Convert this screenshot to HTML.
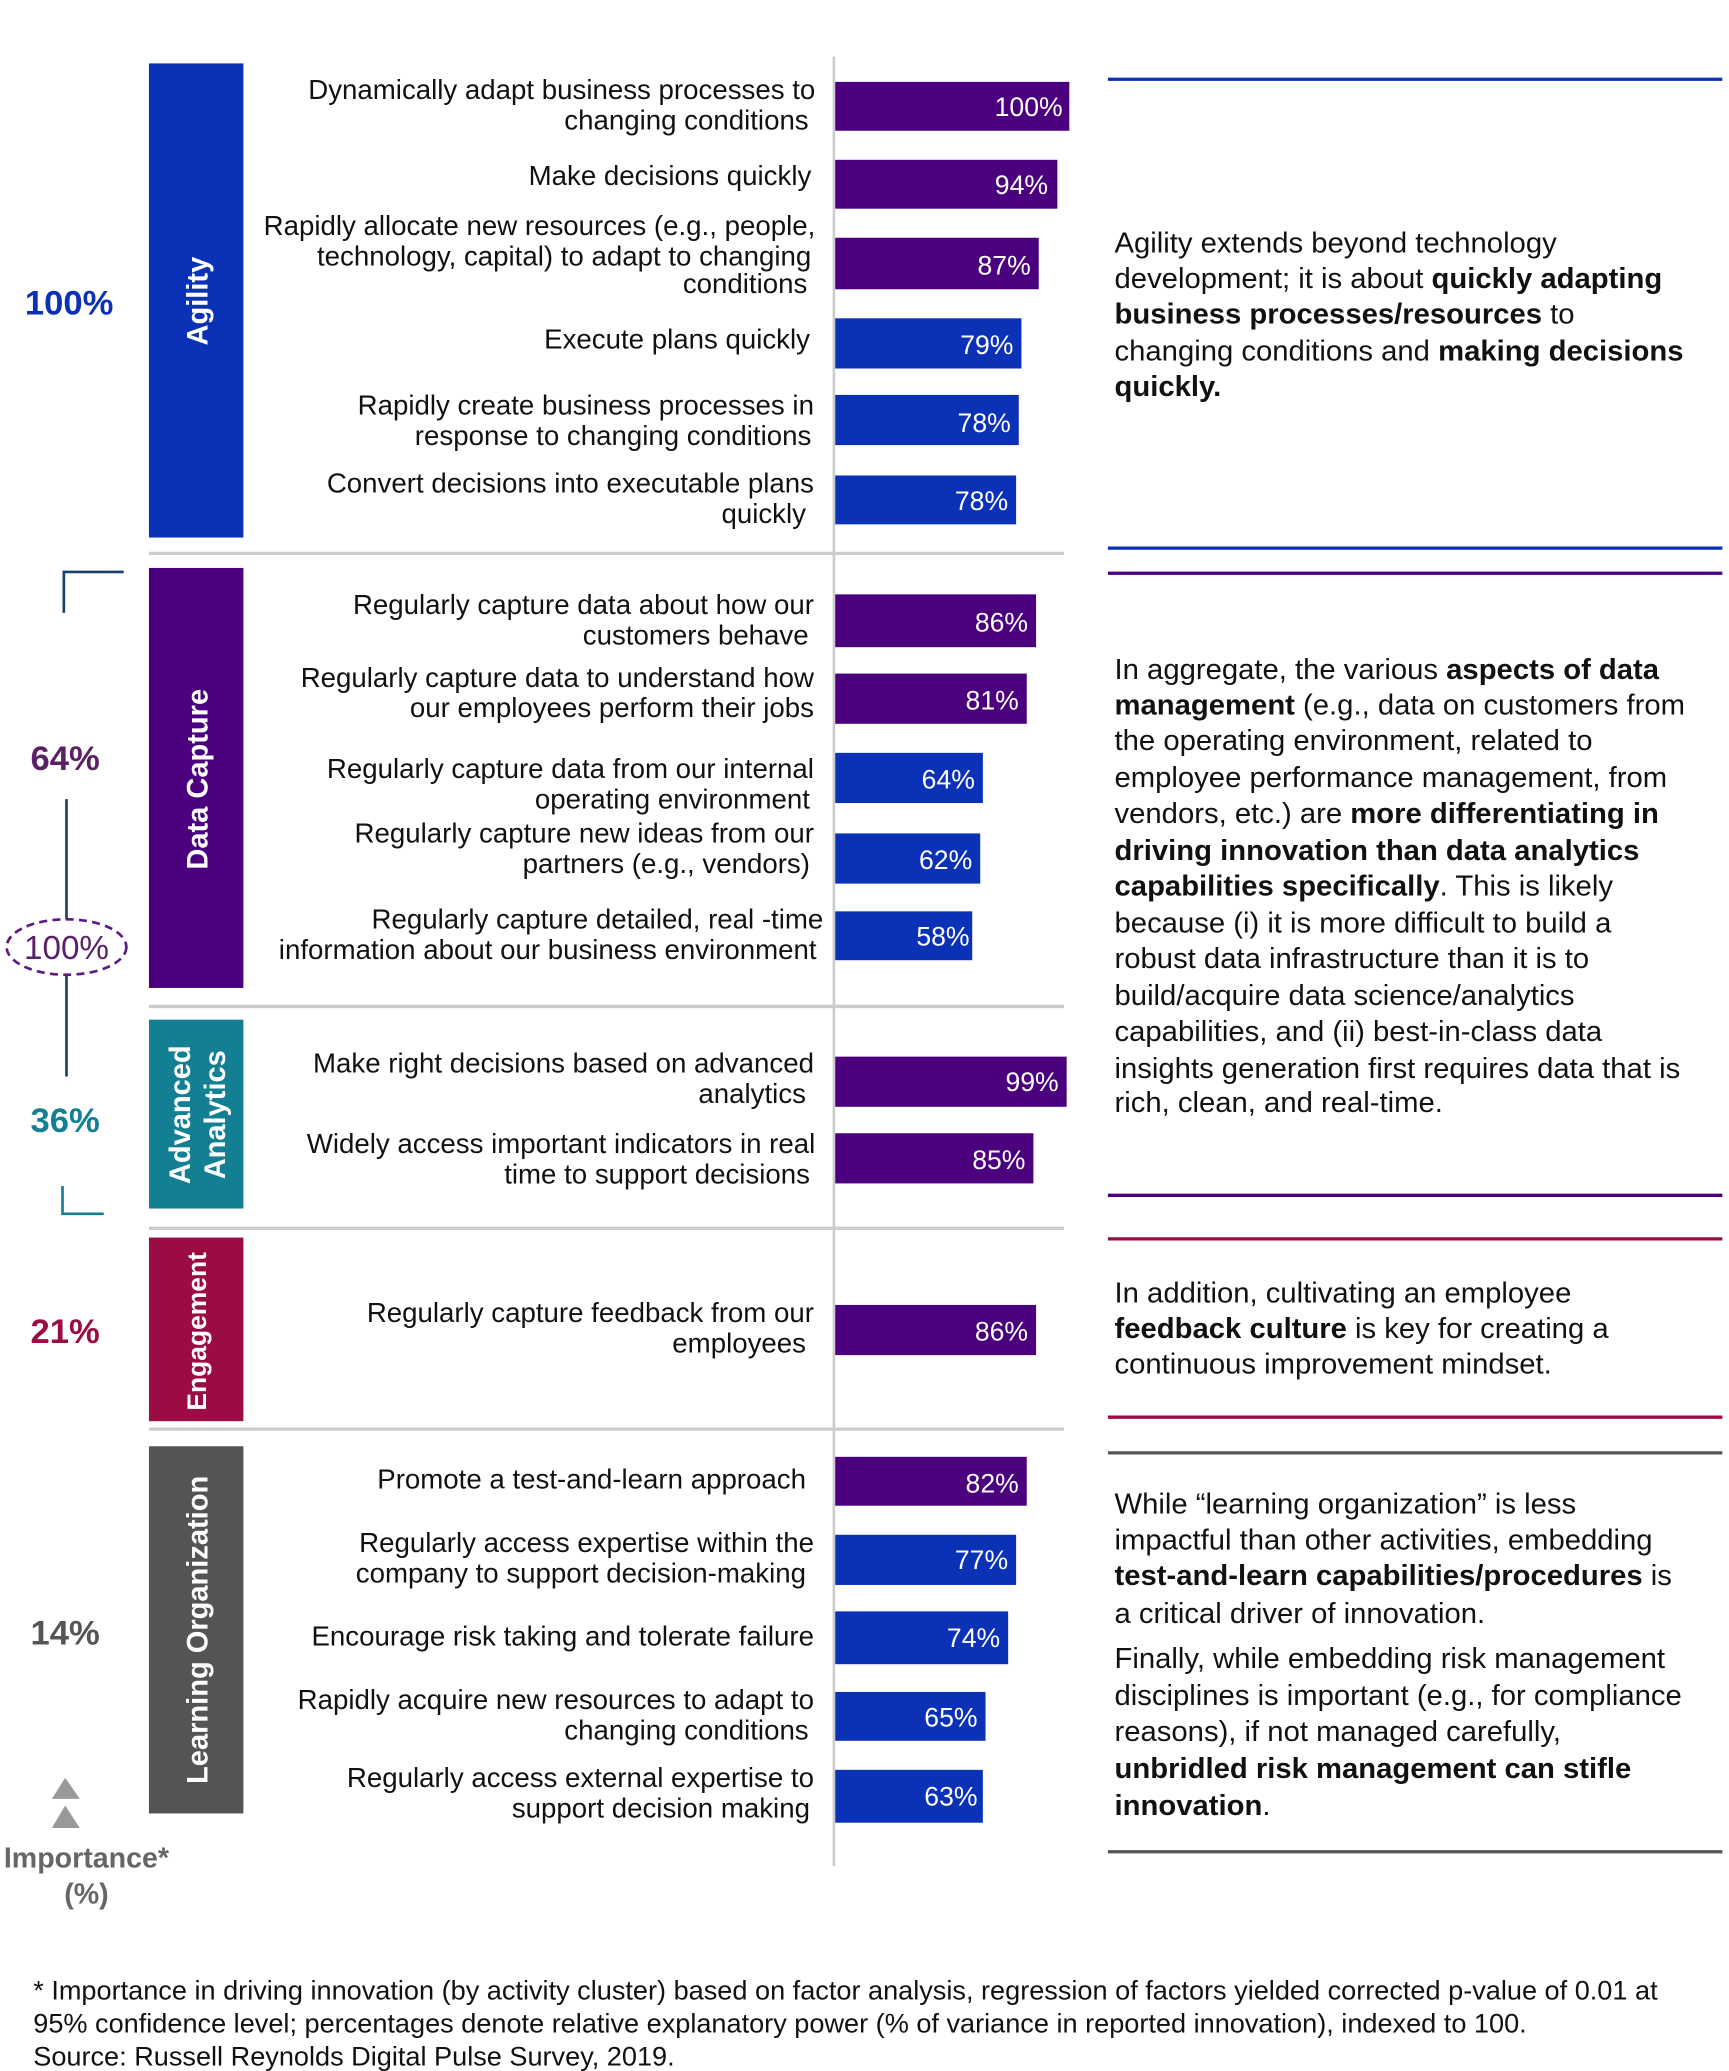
<!DOCTYPE html>
<html><head><meta charset="utf-8"><style>
html,body{margin:0;padding:0;background:#fff;}
svg{display:block;}
text{font-family:"Liberation Sans",Arial,sans-serif;}
.l{font-size:20.8px;fill:#111;text-anchor:end;}
.v{font-size:20px;fill:#fff;text-anchor:end;}
.r{font-size:22px;fill:#111;}
.b{font-weight:bold;}
.cat{font-size:22px;font-weight:bold;fill:#fff;text-anchor:middle;}
.pct{font-size:26px;font-weight:bold;text-anchor:middle;}
.f{font-size:20.4px;fill:#111;}
</style></head><body>
<svg width="1729" height="2071" viewBox="0 0 1300 1568" preserveAspectRatio="none">
<line x1="627" y1="43" x2="627" y2="1413" stroke="#ccc" stroke-width="2"/>
<g stroke="#ccc" stroke-width="2.5">
<line x1="112" y1="419" x2="800" y2="419"/>
<line x1="112" y1="762" x2="800" y2="762"/>
<line x1="112" y1="930" x2="800" y2="930"/>
<line x1="112" y1="1082" x2="800" y2="1082"/>
</g>
<rect x="112" y="48" width="71" height="359" fill="#0b31b6"/>
<rect x="112" y="430" width="71" height="318" fill="#4b007e"/>
<rect x="112" y="772" width="71" height="143" fill="#137f93"/>
<rect x="112" y="937" width="71" height="139" fill="#9b0c45"/>
<rect x="112" y="1095" width="71" height="278" fill="#555355"/>
<text class="cat" transform="translate(156,228) rotate(-90)">Agility</text>
<text class="cat" transform="translate(156,590) rotate(-90)">Data Capture</text>
<text class="cat" transform="translate(143,844) rotate(-90)">Advanced</text>
<text class="cat" transform="translate(169,844) rotate(-90)">Analytics</text>
<text class="cat" style="font-size:20px" transform="translate(155,1008) rotate(-90)">Engagement</text>
<text class="cat" transform="translate(156,1234) rotate(-90)">Learning Organization</text>
<text class="pct" x="52" y="238" fill="#0b31b6">100%</text>
<text class="pct" x="49" y="583" fill="#5a2167">64%</text>
<text class="pct" x="49" y="857" fill="#137f93">36%</text>
<text class="pct" x="49" y="1017" fill="#9b0c45">21%</text>
<text class="pct" x="49" y="1245" fill="#555">14%</text>
<polyline points="48,464 48,433 93,433" fill="none" stroke="#1b3f6b" stroke-width="2"/>
<line x1="50" y1="605" x2="50" y2="697" stroke="#1b3f6b" stroke-width="2"/>
<line x1="50" y1="738" x2="50" y2="815" stroke="#1b3f6b" stroke-width="2"/>
<polyline points="47,898 47,919 78,919" fill="none" stroke="#137f93" stroke-width="2"/>
<ellipse cx="50" cy="717" rx="45" ry="21" fill="#fff" stroke="#5a1a80" stroke-width="2" stroke-dasharray="6,4"/>
<text x="50" y="726" font-size="25" fill="#5a2167" text-anchor="middle">100%</text>
<polygon points="49,1346 39,1362 60,1362" fill="#999"/>
<polygon points="49,1367 39,1384 60,1384" fill="#999"/>
<text x="65" y="1414" font-size="21.5" font-weight="bold" fill="#666" text-anchor="middle">Importance*</text>
<text x="65" y="1441" font-size="21.5" font-weight="bold" fill="#666" text-anchor="middle">(%)</text>
<g>
<rect x="628" y="62" width="176" height="37" fill="#4b007e"/>
<rect x="628" y="121" width="167" height="37" fill="#4b007e"/>
<rect x="628" y="180" width="153" height="39" fill="#4b007e"/>
<rect x="628" y="241" width="140" height="38" fill="#0b31b6"/>
<rect x="628" y="299" width="138" height="38" fill="#0b31b6"/>
<rect x="628" y="360" width="136" height="37" fill="#0b31b6"/>
<rect x="628" y="450" width="151" height="40" fill="#4b007e"/>
<rect x="628" y="510" width="144" height="38" fill="#4b007e"/>
<rect x="628" y="570" width="111" height="38" fill="#0b31b6"/>
<rect x="628" y="631" width="109" height="38" fill="#0b31b6"/>
<rect x="628" y="690" width="103" height="37" fill="#0b31b6"/>
<rect x="628" y="800" width="174" height="38" fill="#4b007e"/>
<rect x="628" y="858" width="149" height="38" fill="#4b007e"/>
<rect x="628" y="988" width="151" height="38" fill="#4b007e"/>
<rect x="628" y="1103" width="144" height="37" fill="#4b007e"/>
<rect x="628" y="1162" width="136" height="38" fill="#0b31b6"/>
<rect x="628" y="1220" width="130" height="40" fill="#0b31b6"/>
<rect x="628" y="1281" width="113" height="37" fill="#0b31b6"/>
<rect x="628" y="1340" width="111" height="40" fill="#0b31b6"/>
</g>
<text class="v" x="799" y="88">100%</text>
<text class="v" x="788" y="147">94%</text>
<text class="v" x="775" y="208">87%</text>
<text class="v" x="762" y="268">79%</text>
<text class="v" x="760" y="327">78%</text>
<text class="v" x="758" y="386">78%</text>
<text class="v" x="773" y="478">86%</text>
<text class="v" x="766" y="537">81%</text>
<text class="v" x="733" y="597">64%</text>
<text class="v" x="731" y="658">62%</text>
<text class="v" x="729" y="716">58%</text>
<text class="v" x="796" y="826">99%</text>
<text class="v" x="771" y="885">85%</text>
<text class="v" x="773" y="1015">86%</text>
<text class="v" x="766" y="1130">82%</text>
<text class="v" x="758" y="1188">77%</text>
<text class="v" x="752" y="1247">74%</text>
<text class="v" x="735" y="1307">65%</text>
<text class="v" x="735" y="1367">63%</text>
<text class="l" x="613" y="75">Dynamically adapt business processes to</text>
<text class="l" x="608" y="98">changing conditions</text>
<text class="l" x="610" y="140">Make decisions quickly</text>
<text class="l" x="613" y="178">Rapidly allocate new resources (e.g., people,</text>
<text class="l" x="610" y="201">technology, capital) to adapt to changing</text>
<text class="l" x="607" y="222">conditions</text>
<text class="l" x="609" y="264">Execute plans quickly</text>
<text class="l" x="612" y="314">Rapidly create business processes in</text>
<text class="l" x="610" y="337">response to changing conditions</text>
<text class="l" x="612" y="373">Convert decisions into executable plans</text>
<text class="l" x="606" y="396">quickly</text>
<text class="l" x="612" y="465">Regularly capture data about how our</text>
<text class="l" x="608" y="488">customers behave</text>
<text class="l" x="612" y="520">Regularly capture data to understand how</text>
<text class="l" x="612" y="543">our employees perform their jobs</text>
<text class="l" x="612" y="589">Regularly capture data from our internal</text>
<text class="l" x="609" y="612">operating environment</text>
<text class="l" x="612" y="638">Regularly capture new ideas from our</text>
<text class="l" x="609" y="661">partners (e.g., vendors)</text>
<text class="l" x="619" y="703">Regularly capture detailed, real -time</text>
<text class="l" x="614" y="726">information about our business environment</text>
<text class="l" x="612" y="812">Make right decisions based on advanced</text>
<text class="l" x="606" y="835">analytics</text>
<text class="l" x="613" y="873">Widely access important indicators in real</text>
<text class="l" x="609" y="896">time to support decisions</text>
<text class="l" x="612" y="1001">Regularly capture feedback from our</text>
<text class="l" x="606" y="1024">employees</text>
<text class="l" x="606" y="1127">Promote a test-and-learn approach</text>
<text class="l" x="612" y="1175">Regularly access expertise within the</text>
<text class="l" x="606" y="1198">company to support decision-making</text>
<text class="l" x="612" y="1246">Encourage risk taking and tolerate failure</text>
<text class="l" x="612" y="1294">Rapidly acquire new resources to adapt to</text>
<text class="l" x="608" y="1317">changing conditions</text>
<text class="l" x="612" y="1353">Regularly access external expertise to</text>
<text class="l" x="609" y="1376">support decision making</text>
<g stroke-width="2.5">
<line x1="833" y1="60" x2="1295" y2="60" stroke="#0b31b6"/>
<line x1="833" y1="415" x2="1295" y2="415" stroke="#0b31b6"/>
<line x1="833" y1="434" x2="1295" y2="434" stroke="#4b007e"/>
<line x1="833" y1="905" x2="1295" y2="905" stroke="#4b007e"/>
<line x1="833" y1="938" x2="1295" y2="938" stroke="#9b0c45"/>
<line x1="833" y1="1073" x2="1295" y2="1073" stroke="#9b0c45"/>
<line x1="833" y1="1100" x2="1295" y2="1100" stroke="#555"/>
<line x1="833" y1="1402" x2="1295" y2="1402" stroke="#555"/>
</g>
<text class="r" x="838" y="191">Agility extends beyond technology</text>
<text class="r" x="838" y="218">development; it is about <tspan class="b">quickly adapting</tspan></text>
<text class="r" x="838" y="245"><tspan class="b">business processes/resources</tspan> to</text>
<text class="r" x="838" y="273">changing conditions and <tspan class="b">making decisions</tspan></text>
<text class="r" x="838" y="300"><tspan class="b">quickly.</tspan></text>
<text class="r" x="838" y="514">In aggregate, the various <tspan class="b">aspects of data</tspan></text>
<text class="r" x="838" y="541"><tspan class="b">management</tspan> (e.g., data on customers from</text>
<text class="r" x="838" y="568">the operating environment, related to</text>
<text class="r" x="838" y="596">employee performance management, from</text>
<text class="r" x="838" y="623">vendors, etc.) are <tspan class="b">more differentiating in</tspan></text>
<text class="r" x="838" y="651"><tspan class="b">driving innovation than data analytics</tspan></text>
<text class="r" x="838" y="678"><tspan class="b">capabilities specifically</tspan>. This is likely</text>
<text class="r" x="838" y="706">because (i) it is more difficult to build a</text>
<text class="r" x="838" y="733">robust data infrastructure than it is to</text>
<text class="r" x="838" y="761">build/acquire data science/analytics</text>
<text class="r" x="838" y="788">capabilities, and (ii) best-in-class data</text>
<text class="r" x="838" y="816">insights generation first requires data that is</text>
<text class="r" x="838" y="842">rich, clean, and real-time.</text>
<text class="r" x="838" y="986">In addition, cultivating an employee</text>
<text class="r" x="838" y="1013"><tspan class="b">feedback culture</tspan> is key for creating a</text>
<text class="r" x="838" y="1040">continuous improvement mindset.</text>
<text class="r" x="838" y="1146">While “learning organization” is less</text>
<text class="r" x="838" y="1173">impactful than other activities, embedding</text>
<text class="r" x="838" y="1200"><tspan class="b">test-and-learn capabilities/procedures</tspan> is</text>
<text class="r" x="838" y="1229">a critical driver of innovation.</text>
<text class="r" x="838" y="1263">Finally, while embedding risk management</text>
<text class="r" x="838" y="1291">disciplines is important (e.g., for compliance</text>
<text class="r" x="838" y="1318">reasons), if not managed carefully,</text>
<text class="r" x="838" y="1346"><tspan class="b">unbridled risk management can stifle</tspan></text>
<text class="r" x="838" y="1374"><tspan class="b">innovation</tspan>.</text>
<text class="f" x="25" y="1514">* Importance in driving innovation (by activity cluster) based on factor analysis, regression of factors yielded corrected p-value of 0.01 at</text>
<text class="f" x="25" y="1539">95% confidence level; percentages denote relative explanatory power (% of variance in reported innovation), indexed to 100.</text>
<text class="f" x="25" y="1564">Source: Russell Reynolds Digital Pulse Survey, 2019.</text>
</svg>
</body></html>
